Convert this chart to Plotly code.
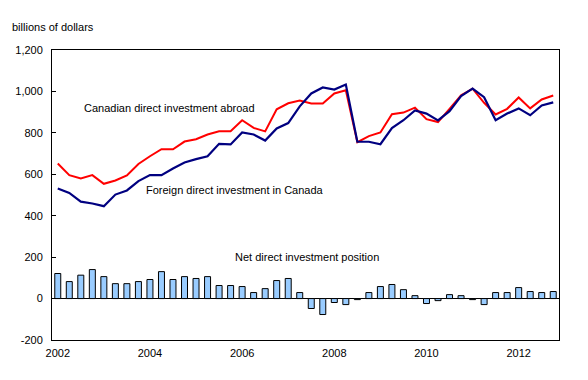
import plotly.graph_objects as go

quarters = list(range(44))
year_tick_pos = [0, 8, 16, 24, 32, 40]
year_labels = ["2002", "2004", "2006", "2008", "2010", "2012"]

cdia = [652, 596, 580, 596, 554, 570, 594, 650, 687, 721, 721, 758, 769, 792, 808, 808,
        861, 824, 807, 914, 943, 956, 942, 942, 990, 1006, 755, 784, 802, 890, 898, 922,
        866, 852, 916, 982, 1013, 945, 889, 916, 971, 918, 961, 980]
fdi = [531, 510, 468, 459, 446, 502, 522, 567, 596, 596, 628, 657, 673, 687, 747, 744,
       802, 792, 763, 821, 847, 928, 990, 1019, 1009, 1033, 757, 757, 745, 823, 861, 908,
       893, 860, 905, 977, 1014, 972, 861, 893, 918, 885, 932, 947]
net = [121, 82, 113, 140, 106, 72, 72, 82, 92, 130, 92, 106, 97, 106, 63, 63,
       58, 29, 48, 87, 97, 29, -48, -77, -19, -29, -5, 29, 58, 68, 43, 14,
       -24, -10, 19, 14, -5, -29, 29, 29, 53, 34, 29, 34]

y_tick_vals = [-200, 0, 200, 400, 600, 800, 1000, 1200]
y_tick_text = ["-200", "0", "200", "400", "600", "800", "1,000", "1,200"]

font = "Liberation Sans, Arial, sans-serif"

fig = go.Figure()
fig.add_trace(go.Bar(x=quarters, y=net, width=0.52,
                     marker=dict(color="#99CCFF", line=dict(color="black", width=1)),
                     showlegend=False))
fig.add_trace(go.Scatter(x=quarters, y=cdia, mode="lines",
                         line=dict(color="#FF0000", width=2), showlegend=False))
fig.add_trace(go.Scatter(x=quarters, y=fdi, mode="lines",
                         line=dict(color="#000080", width=2.2), showlegend=False))

fig.update_layout(
    width=588, height=380,
    margin=dict(l=52, r=29, t=50, b=40),
    paper_bgcolor="white", plot_bgcolor="white",
    font=dict(family=font, size=11, color="black"),
    xaxis=dict(range=[-0.5, 43.5], tickvals=year_tick_pos, ticktext=year_labels,
               showgrid=False, zeroline=False, showline=True, linecolor="black",
               linewidth=1, mirror=True, ticks="", tickfont=dict(size=11),
               ticklabelstandoff=3),
    yaxis=dict(range=[-200, 1200], tickvals=y_tick_vals, ticktext=y_tick_text,
               showgrid=False, zeroline=True, zerolinecolor="black", zerolinewidth=1,
               showline=True, linecolor="black", linewidth=1, mirror=True,
               ticks="inside", ticklen=4, tickcolor="black", tickfont=dict(size=11),
               ticklabelstandoff=6),
    bargap=0.5,
    annotations=[
        dict(text="billions of dollars", xref="paper", yref="paper",
             x=-42/507, y=1.079, xanchor="left", yanchor="middle", showarrow=False),
        dict(text="Canadian direct investment abroad", x=2.1, y=922,
             xanchor="left", yanchor="middle", showarrow=False),
        dict(text="Foreign direct investment in Canada", x=7.5, y=526,
             xanchor="left", yanchor="middle", showarrow=False),
        dict(text="Net direct investment position", x=15.24, y=203,
             xanchor="left", yanchor="middle", showarrow=False),
    ],
)

fig.write_html("out.html")
